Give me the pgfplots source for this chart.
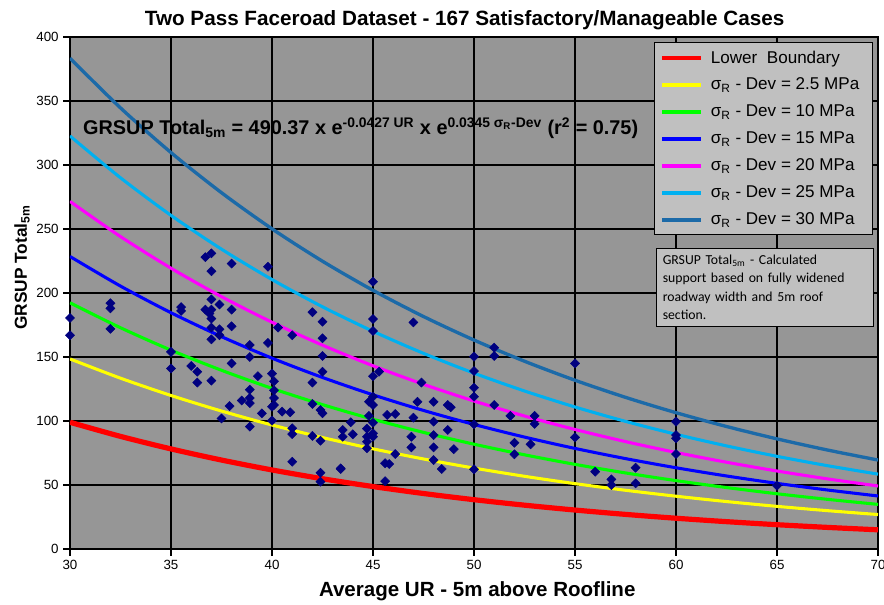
\documentclass[border=0pt]{standalone}
\usepackage{fontspec}
\setmainfont{Liberation Sans}
\newfontfamily\carlito{Carlito}
\usepackage{pgfplots}
\usepackage{pgfplotstable}
\pgfplotsset{compat=1.18}
\definecolor{plotgrey}{RGB}{150,150,150}
\definecolor{boxgrey}{RGB}{192,192,192}
\definecolor{lbred}{RGB}{255,0,0}
\definecolor{cyellow}{RGB}{255,255,0}
\definecolor{cgreen}{RGB}{0,255,0}
\definecolor{cblue}{RGB}{0,0,255}
\definecolor{cmagenta}{RGB}{255,0,255}
\definecolor{sky}{RGB}{0,176,240}
\definecolor{deepblue}{RGB}{28,106,168}
\definecolor{ptnavy}{RGB}{0,0,128}

% UR, GRSUP for the 167 cases (overlapping points read once)
\pgfplotstableread{
x y
30 180.5
30 167
32 192
32 188
32 172
35 154
35 141
35.5 189
35.5 186
36 143
36.3 138.5
36.3 130
36.7 228
37 231
37 217
38 223
39.8 220.5
37 195
37.4 191
36.7 187
37 187
36.9 184
37 180
38 187
42 185
42.5 177.6
37 173
37.4 171.6
37.4 167
37 163.8
38 174
40.3 173
41 167
42.5 164.6
38.9 159.4
39.8 161
38.9 150
42.5 150.8
38 145
42.5 138.5
42 130
37 131.5
39.3 135
40 137
40.1 131
38.9 124.5
38.9 118
38.5 116
38.9 114
40.1 124
40.1 118
40.1 112.5
40 111.2
37.9 111.7
40.5 107.3
40.9 106.8
39.5 106
42 113.3
42.4 108.6
42.5 106
37.5 102
40 100.3
38.9 95.6
41 94.3
41 89.8
42 88.3
42.4 84.6
41 68.2
42.4 59.6
42.4 52.6
43.4 63
45 208.8
45 179.7
45 170.3
47 177
50 150.3
50 139
50 126
50 119
45 135
45.3 138.5
47.4 130
45 119
44.8 115
45 112.5
47.2 115
48 115
48.7 112.5
48.85 110.7
50 97.4
44.8 104
45 98.7
45.7 104.7
46.1 105.5
47 102.6
48 99.5
43.9 99
43.5 93
43.5 87.7
44 89.6
44.7 94
44.7 87.7
44.7 83.8
44.7 78.7
45 90.4
45 87.7
46.9 87.7
48 89
48.7 93
46.9 79.4
48 79.4
49 78
46.1 74.2
45.6 67
45.8 66.4
48 69.5
48.4 62.5
50 62.3
43.4 62.5
45.6 53
51 157.3
51 150.8
55 145
51 112.5
51.8 104
53 104
53 97.7
55 87.2
52 83
52.8 81.8
52 74
56 60.4
56.8 54.4
56.8 50
58 63.5
58 51.3
60 99.5
60 89
60 86.5
60 74.2
65 49.5
}\cases

\begin{document}
\begin{tikzpicture}
\begin{axis}[
  name=ax, scale only axis, width=606pt, height=384pt,
  xmin=30, xmax=70, ymin=0, ymax=400,
  xtick={30,35,...,70}, ytick={0,50,...,400},
  xtick pos=bottom, ytick pos=left,
  grid=major, major grid style={black,line width=0.9pt},
  axis line style={black,line width=0.9pt},
  tick style={black,line width=0.9pt}, tick align=outside, major tick length=5pt,
  axis background/.style={fill=plotgrey},
  ticklabel style={font=\fontsize{10}{12}\selectfont},
  /pgf/number format/assume math mode=true,
  title={Two Pass Faceroad Dataset - 167 Satisfactory/Manageable Cases},
  title style={font=\bfseries\fontsize{15.5}{17}\selectfont, xshift=-7pt, yshift=-4pt},
  xlabel={Average UR - 5m above Roofline},
  xlabel style={font=\bfseries\fontsize{15.4}{18}\selectfont, at={(axis description cs:0.504,0)}, anchor=center, yshift=-31.5pt},
  ylabel={GRSUP Total\textsubscript{5m}},
  ylabel style={font=\bfseries\fontsize{13}{16}\selectfont, at={(axis description cs:-0.0594,0.55)}, anchor=center},
  legend style={at={(0.994,0.990)}, anchor=north east, fill=boxgrey, draw=black, line width=0.8pt,
    font=\fontsize{12.8}{14}\selectfont, row sep=5.8pt, inner xsep=4pt, inner ysep=4pt,
    nodes={inner xsep=6pt}},
  legend cell align=left,
  legend image code/.code={\draw[#1, line width=3pt] (0pt,0pt) -- (29pt,0pt);},
]
\addplot[lbred, line width=3.9pt, smooth] coordinates {
 (30,99) (32.5,87.98) (35,78.19) (37.5,69.49) (40,61.76) (42.5,54.88) (45,48.78) (47.5,43.35) (50,38.52)
 (52.5,34.24) (55,30.43) (57.5,27.04) (60,24.03) (62.5,21.36) (65,18.98) (67.5,16.87) (70,14.99)};
\addplot[cyellow, line width=2.3pt, smooth] coordinates {
 (30,148.48) (32.5,133.45) (35,119.93) (37.5,107.79) (40,96.87) (42.5,87.07) (45,78.26) (47.5,70.33) (50,63.21)
 (52.5,56.80) (55,51.05) (57.5,45.88) (60,41.24) (62.5,37.06) (65,33.31) (67.5,29.95) (70,26.91)};
\addplot[cgreen, line width=2.3pt, smooth] coordinates {
 (30,192.33) (32.5,172.86) (35,155.35) (37.5,139.62) (40,125.47) (42.5,112.78) (45,101.37) (47.5,91.10) (50,81.88)
 (52.5,73.58) (55,66.12) (57.5,59.43) (60,53.42) (62.5,48.01) (65,43.15) (67.5,38.79) (70,34.86)};
\addplot[cblue, line width=2.3pt, smooth] coordinates {
 (30,228.53) (32.5,205.40) (35,184.59) (37.5,165.90) (40,149.09) (42.5,134.01) (45,120.45) (47.5,108.25) (50,97.30)
 (52.5,87.43) (55,78.57) (57.5,70.62) (60,63.47) (62.5,57.05) (65,51.27) (67.5,46.09) (70,41.42)};
\addplot[cmagenta, line width=2.3pt, smooth] coordinates {
 (30,271.56) (32.5,244.07) (35,219.35) (37.5,197.14) (40,177.16) (42.5,159.24) (45,143.13) (47.5,128.63) (50,115.61)
 (52.5,103.89) (55,93.37) (57.5,83.91) (60,75.42) (62.5,67.79) (65,60.93) (67.5,54.77) (70,49.22)};
\addplot[sky, line width=2.3pt, smooth] coordinates {
 (30,322.68) (32.5,290.01) (35,260.64) (37.5,234.25) (40,210.51) (42.5,189.21) (45,170.07) (47.5,152.85) (50,137.38)
 (52.5,123.45) (55,110.94) (57.5,99.71) (60,89.62) (62.5,80.55) (65,72.40) (67.5,65.08) (70,58.49)};
\addplot[deepblue, line width=2.5pt, smooth] coordinates {
 (30,383.43) (32.5,344.61) (35,309.71) (37.5,278.35) (40,250.14) (42.5,224.83) (45,202.09) (47.5,181.62) (50,163.24)
 (52.5,146.69) (55,131.83) (57.5,118.48) (60,106.49) (62.5,95.71) (65,86.03) (67.5,77.33) (70,69.50)};
\addplot[only marks, mark=square*, mark size=2.4pt, forget plot,
  mark options={rotate=45, fill=ptnavy, draw=ptnavy}] table[x=x, y=y] {\cases};
\legend{Lower\ \ Boundary,
  σ\textsubscript{R} - Dev = 2.5 MPa,
  σ\textsubscript{R} - Dev = 10 MPa,
  σ\textsubscript{R} - Dev = 15 MPa,
  σ\textsubscript{R} - Dev = 20 MPa,
  σ\textsubscript{R} - Dev = 25 MPa,
  σ\textsubscript{R} - Dev = 30 MPa}
\node[anchor=west, font=\bfseries\fontsize{14.9}{17}\selectfont, inner sep=0pt] at (axis cs:30.64,329)
  {GRSUP Total\textsubscript{5m} = 490.37 x e\textsuperscript{-0.0427 UR} x e\textsuperscript{0.0345 σ\textsubscript{R}-Dev} (r\textsuperscript{2} = 0.75)};
\node[anchor=north east, fill=boxgrey, draw=black, line width=0.8pt, text width=153pt, align=left,
  inner sep=5pt, font=\carlito\fontsize{10.3}{13.7}\selectfont] at (rel axis cs:0.995,0.588)
  {GRSUP Total\textsubscript{5m} - Calculated\\ support based on fully widened\\ roadway width and 5m roof\\ section.};
\end{axis}
\pgfresetboundingbox
\path ([xshift=-52.5pt,yshift=-42pt]ax.south west) rectangle ([xshift=4.5pt,yshift=27.75pt]ax.north east);
\end{tikzpicture}
\end{document}
